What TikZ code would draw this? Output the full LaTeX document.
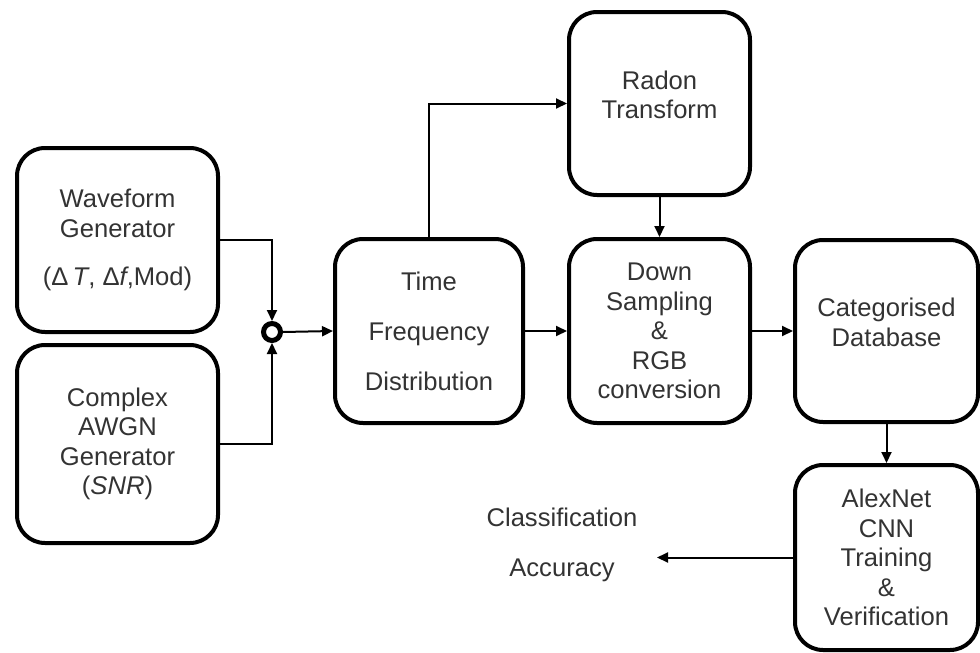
\documentclass[tikz,border=0pt]{standalone}
\usepackage{fontspec}
\setmainfont{Liberation Sans}
\usetikzlibrary{arrows.meta}

\begin{document}
\begin{tikzpicture}[
  x=0.5pt, y=-0.5pt,
  font=\fontsize{12.8pt}{14.75pt}\selectfont,
  blk/.style={draw, line width=2pt, rounded corners=14pt, align=center, text=black!80, inner sep=0pt},
  conn/.style={line width=1pt, -{Triangle[length=5.5pt,width=5pt]}}
]
  \useasboundingbox (0,0) rectangle (980,653);

  % signal sources
  \node[blk, minimum width=100.5pt, minimum height=92pt] (wavegen) at (117.5,240)
    {Waveform\\Generator\\[9.5pt](Δ\,\textit{T}, Δ\textit{f},Mod)};
  \node[blk, minimum width=100.5pt, minimum height=99pt] (awgn) at (117.5,444)
    {Complex\\AWGN\\Generator\\(\textit{SNR})};
  \node[circle, draw, line width=2.5pt, minimum size=8.5pt, inner sep=0pt] (sum) at (272,332) {};

  % processing chain
  \node[blk, minimum width=94pt, minimum height=92pt] (tfd) at (429,331)
    {Time\\[10.25pt]Frequency\\[10.25pt]Distribution};
  \node[blk, minimum width=90.5pt, minimum height=91.5pt] (radon) at (659.5,103.5)
    {Radon\\Transform\\[-6pt]\mbox{}};
  \node[blk, minimum width=90.5pt, minimum height=92pt] (down) at (659.5,331)
    {Down\\Sampling\\\&\\RGB\\conversion};
  \node[blk, minimum width=91.5pt, minimum height=91pt] (catdb) at (886.5,331)
    {Categorised\\Database\\[-6pt]\mbox{}};
  \node[blk, minimum width=91.5pt, minimum height=92.5pt] (alexnet) at (886.5,557.5)
    {AlexNet\\CNN\\Training\\\&\\Verification};
  \node[align=center, text=black!80] (accuracy) at (562,545)
    {Classification\\[10.25pt]Accuracy};
  \coordinate (accin) at (657,557.5);

  \draw[conn] (wavegen.east) -| (sum.north);
  \draw[conn] (awgn.east) -| (sum.south);
  \draw[conn] (sum.east) -- (tfd.west);
  \draw[conn] (tfd.north) |- (radon.west);
  \draw[conn] (radon.south) -- (down.north);
  \draw[conn] (tfd.east) -- (down.west);
  \draw[conn] (down.east) -- (catdb.west);
  \draw[conn] (catdb.south) -- (alexnet.north);
  \draw[conn] (alexnet.west) -- (accin);
\end{tikzpicture}
\end{document}
